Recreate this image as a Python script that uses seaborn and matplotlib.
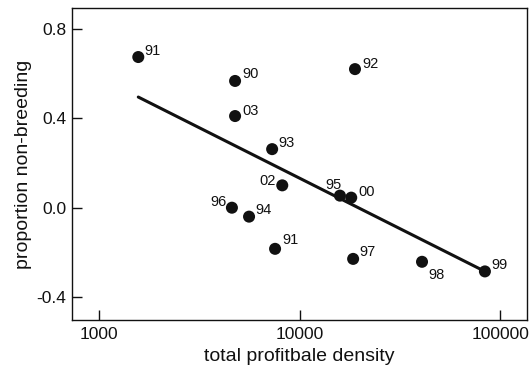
import matplotlib

matplotlib.use("Agg")

import matplotlib.pyplot as plt  # noqa: E402
import pandas as pd  # noqa: E402
import seaborn as sns  # noqa: E402
from matplotlib.ticker import FixedLocator, NullLocator  # noqa: E402

# data
years = ["91", "90", "03", "92", "93", "02", "96", "94", "95", "00", "91", "97", "98", "99"]
density = [1570, 4770, 4770, 18900, 7300, 8200, 4600, 5600, 15900, 18100, 7550, 18500, 40800, 84000]
prop_non_breeding = [0.674, 0.567, 0.41, 0.62, 0.262, 0.10, 0.0, -0.04, 0.054, 0.045, -0.184, -0.229, -0.242, -0.285]

fit_x = [1570, 84000]
fit_y = [0.495, -0.285]

x_ticks = [1000, 10000, 100000]
x_tick_labels = ["1000", "10000", "100000"]
y_ticks = [-0.4, 0.0, 0.4, 0.8]
y_tick_labels = ["-0.4", "0.0", "0.4", "0.8"]

# label placement (ha, va, dx, dy in points)
label_pos = [
    ("left", "baseline", 4.5, 1.5),
    ("left", "baseline", 5, 2),
    ("left", "baseline", 5, 1),
    ("left", "baseline", 5, 1),
    ("left", "baseline", 4.5, 1.5),
    ("right", "baseline", -5, 0),
    ("right", "baseline", -3.5, 1.5),
    ("left", "baseline", 4.5, 2),
    ("right", "baseline", 1.5, 5),
    ("left", "baseline", 5.5, 1.5),
    ("left", "baseline", 5, 3.5),
    ("left", "baseline", 4.5, 2),
    ("left", "top", 4.5, -4.5),
    ("left", "baseline", 4.5, 1.5),
]

df = pd.DataFrame({"year": years, "density": density, "prop": prop_non_breeding})
fit = pd.DataFrame({"density": fit_x, "prop": fit_y})

sns.set_style("ticks")
plt.rcParams["font.family"] = ["Liberation Sans", "DejaVu Sans"]

fig, ax = plt.subplots(figsize=(5.29, 3.74), dpi=100)
fig.subplots_adjust(left=0.136, right=0.996, bottom=0.144, top=0.979)

sns.lineplot(data=fit, x="density", y="prop", color="#111111", linewidth=2.2, ax=ax)
sns.scatterplot(data=df, x="density", y="prop", color="#111111", s=75,
                edgecolor="none", ax=ax, zorder=3)

for (yr, xv, yv), (ha, va, dx, dy) in zip(zip(years, density, prop_non_breeding), label_pos):
    ax.annotate(yr, (xv, yv), xytext=(dx, dy), textcoords="offset points",
                ha=ha, va=va, fontsize=10.5, color="#111111")

ax.set_xscale("log")
ax.set_xlim(733, 136000)
ax.set_ylim(-0.503, 0.894)
ax.xaxis.set_major_locator(FixedLocator(x_ticks))
ax.xaxis.set_minor_locator(NullLocator())
ax.set_xticklabels(x_tick_labels)
ax.set_yticks(y_ticks)
ax.set_yticklabels(y_tick_labels)

ax.tick_params(direction="in", length=7.5, width=1, labelsize=12.5, colors="#111111", pad=4)
ax.tick_params(axis="x", pad=5)
for spine in ax.spines.values():
    spine.set_visible(True)
    spine.set_linewidth(1)
    spine.set_color("#111111")

ax.set_xlabel("total profitbale density", fontsize=14, labelpad=4, color="#111111")
ax.set_ylabel("proportion non-breeding", fontsize=14, labelpad=3, color="#111111")

fig.savefig("out.png", dpi=100)
